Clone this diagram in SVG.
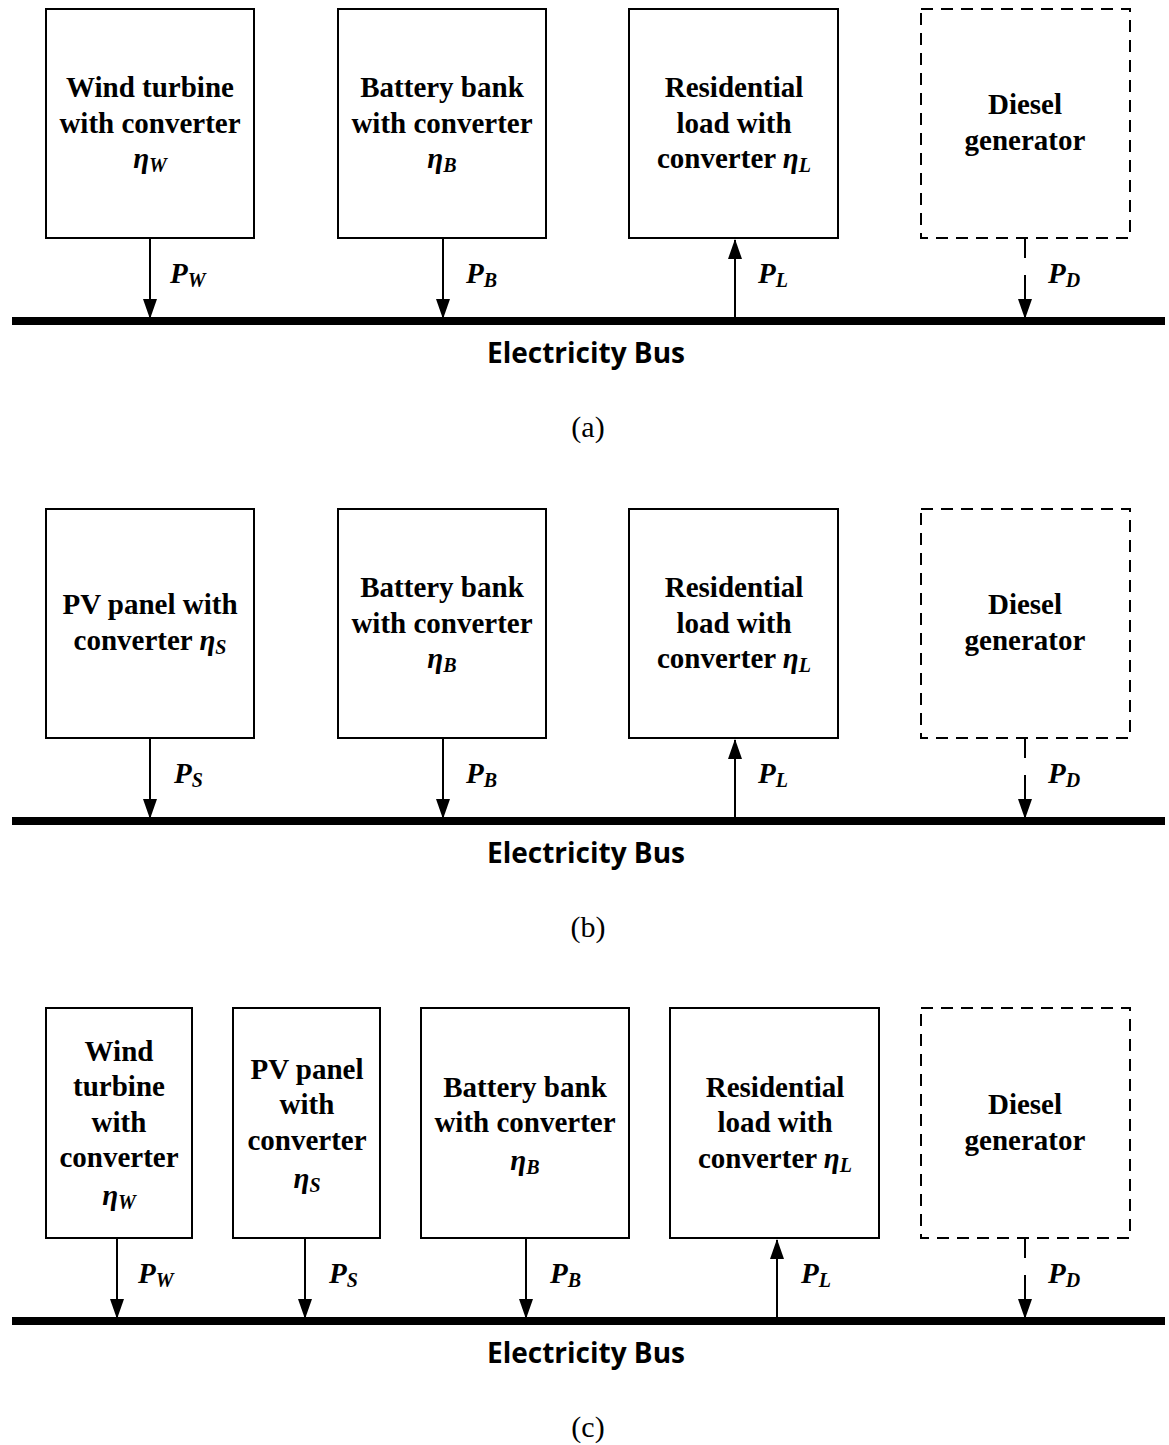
<svg xmlns="http://www.w3.org/2000/svg" width="1169" height="1445" viewBox="0 0 1169 1445">
<style>
.box{fill:#fff;stroke:#000;stroke-width:2}
.dbox{fill:#fff;stroke:#000;stroke-width:2;stroke-dasharray:12 8}
.t{font-family:"Liberation Serif","Times New Roman",serif;font-weight:bold;font-size:29px;text-anchor:middle;fill:#000}
.m{font-style:italic}
.lab{font-family:"Liberation Serif","Times New Roman",serif;font-weight:bold;font-style:italic;font-size:29px;fill:#000}
.bus{stroke:#000;stroke-width:8}
.busl{font-family:"Open Sans","Liberation Sans",sans-serif;font-weight:bold;font-size:28px;text-anchor:middle;fill:#000}
.cap{font-family:"Liberation Serif","Times New Roman",serif;font-size:30px;text-anchor:middle;fill:#000}
.ar{stroke:#000;stroke-width:2;fill:none}
</style>
<defs>
<marker id="ahd" markerWidth="20" markerHeight="14" refX="19" refY="7" orient="auto" markerUnits="userSpaceOnUse" viewBox="0 0 20 14">
<path d="M0,0 L20,7 L0,14 Z" fill="#000"/>
</marker>
</defs>

<!-- Panel (a) -->
<g id="a-wind"><rect class="box" x="46" y="9" width="208" height="229"/>
<text class="t" x="150" y="97">Wind turbine</text><text class="t" x="150" y="133">with converter</text>
<text class="t" x="150" y="168"><tspan class="m">η</tspan><tspan class="m" font-size="20" dy="4">W</tspan></text></g>
<g id="a-battery"><rect class="box" x="338" y="9" width="208" height="229"/>
<text class="t" x="442" y="97">Battery bank</text><text class="t" x="442" y="133">with converter</text>
<text class="t" x="442" y="168"><tspan class="m">η</tspan><tspan class="m" font-size="20" dy="4">B</tspan></text></g>
<g id="a-load"><rect class="box" x="629" y="9" width="209" height="229"/>
<text class="t" x="734" y="97">Residential</text><text class="t" x="734" y="133">load with</text>
<text class="t" x="734" y="168">converter <tspan class="m">η</tspan><tspan class="m" font-size="20" dy="4">L</tspan></text></g>
<g id="a-diesel"><rect class="dbox" x="921" y="9" width="209" height="229"/>
<text class="t" x="1025" y="114">Diesel</text><text class="t" x="1025" y="150">generator</text></g>
<g id="a-bus"><line class="bus" x1="12" y1="321" x2="1165" y2="321"/>
<text class="busl" x="586" y="363">Electricity Bus</text>
<text class="cap" x="588" y="437">(a)</text></g>

<!-- Panel (b) -->
<g id="b-pv"><rect class="box" x="46" y="509" width="208" height="229"/>
<text class="t" x="150" y="614">PV panel with</text>
<text class="t" x="150" y="650">converter <tspan class="m">η</tspan><tspan class="m" font-size="20" dy="4">S</tspan></text></g>
<g id="b-battery"><rect class="box" x="338" y="509" width="208" height="229"/>
<text class="t" x="442" y="597">Battery bank</text><text class="t" x="442" y="633">with converter</text>
<text class="t" x="442" y="668"><tspan class="m">η</tspan><tspan class="m" font-size="20" dy="4">B</tspan></text></g>
<g id="b-load"><rect class="box" x="629" y="509" width="209" height="229"/>
<text class="t" x="734" y="597">Residential</text><text class="t" x="734" y="633">load with</text>
<text class="t" x="734" y="668">converter <tspan class="m">η</tspan><tspan class="m" font-size="20" dy="4">L</tspan></text></g>
<g id="b-diesel"><rect class="dbox" x="921" y="509" width="209" height="229"/>
<text class="t" x="1025" y="614">Diesel</text><text class="t" x="1025" y="650">generator</text></g>
<g id="b-bus"><line class="bus" x1="12" y1="821" x2="1165" y2="821"/>
<text class="busl" x="586" y="863">Electricity Bus</text>
<text class="cap" x="588" y="937">(b)</text></g>

<!-- Panel (c) -->
<g id="c-wind"><rect class="box" x="46" y="1008" width="146" height="230"/>
<text class="t" x="119" y="1061">Wind</text><text class="t" x="119" y="1096">turbine</text><text class="t" x="119" y="1132">with</text><text class="t" x="119" y="1167">converter</text>
<text class="t" x="119" y="1205"><tspan class="m">η</tspan><tspan class="m" font-size="20" dy="4">W</tspan></text></g>
<g id="c-pv"><rect class="box" x="233" y="1008" width="147" height="230"/>
<text class="t" x="307" y="1079">PV panel</text><text class="t" x="307" y="1114">with</text><text class="t" x="307" y="1150">converter</text>
<text class="t" x="307" y="1188"><tspan class="m">η</tspan><tspan class="m" font-size="20" dy="4">S</tspan></text></g>
<g id="c-battery"><rect class="box" x="421" y="1008" width="208" height="230"/>
<text class="t" x="525" y="1097">Battery bank</text><text class="t" x="525" y="1132">with converter</text>
<text class="t" x="525" y="1170"><tspan class="m">η</tspan><tspan class="m" font-size="20" dy="4">B</tspan></text></g>
<g id="c-load"><rect class="box" x="670" y="1008" width="209" height="230"/>
<text class="t" x="775" y="1097">Residential</text><text class="t" x="775" y="1132">load with</text>
<text class="t" x="775" y="1168">converter <tspan class="m">η</tspan><tspan class="m" font-size="20" dy="4">L</tspan></text></g>
<g id="c-diesel"><rect class="dbox" x="921" y="1008" width="209" height="230"/>
<text class="t" x="1025" y="1114">Diesel</text><text class="t" x="1025" y="1150">generator</text></g>
<g id="c-bus"><line class="bus" x1="12" y1="1321" x2="1165" y2="1321"/>
<text class="busl" x="586" y="1363">Electricity Bus</text>
<text class="cap" x="588" y="1437">(c)</text></g>

<!-- Connectors -->
<g id="connectors">
<line class="ar" x1="150" y1="238" x2="150" y2="318" marker-end="url(#ahd)"/>
<line class="ar" x1="443" y1="238" x2="443" y2="318" marker-end="url(#ahd)"/>
<line class="ar" x1="735" y1="317" x2="735" y2="240" marker-end="url(#ahd)"/>
<line class="ar" x1="1025" y1="238" x2="1025" y2="258"/>
<line class="ar" x1="1025" y1="275" x2="1025" y2="318" marker-end="url(#ahd)"/>
<text class="lab" x="170" y="283">P<tspan font-size="20" dy="4">W</tspan></text>
<text class="lab" x="466" y="283">P<tspan font-size="20" dy="4">B</tspan></text>
<text class="lab" x="758" y="283">P<tspan font-size="20" dy="4">L</tspan></text>
<text class="lab" x="1048" y="283">P<tspan font-size="20" dy="4">D</tspan></text>

<line class="ar" x1="150" y1="738" x2="150" y2="818" marker-end="url(#ahd)"/>
<line class="ar" x1="443" y1="738" x2="443" y2="818" marker-end="url(#ahd)"/>
<line class="ar" x1="735" y1="817" x2="735" y2="740" marker-end="url(#ahd)"/>
<line class="ar" x1="1025" y1="738" x2="1025" y2="758"/>
<line class="ar" x1="1025" y1="775" x2="1025" y2="818" marker-end="url(#ahd)"/>
<text class="lab" x="174" y="783">P<tspan font-size="20" dy="4">S</tspan></text>
<text class="lab" x="466" y="783">P<tspan font-size="20" dy="4">B</tspan></text>
<text class="lab" x="758" y="783">P<tspan font-size="20" dy="4">L</tspan></text>
<text class="lab" x="1048" y="783">P<tspan font-size="20" dy="4">D</tspan></text>

<line class="ar" x1="117" y1="1238" x2="117" y2="1318" marker-end="url(#ahd)"/>
<line class="ar" x1="305" y1="1238" x2="305" y2="1318" marker-end="url(#ahd)"/>
<line class="ar" x1="526" y1="1238" x2="526" y2="1318" marker-end="url(#ahd)"/>
<line class="ar" x1="777" y1="1317" x2="777" y2="1240" marker-end="url(#ahd)"/>
<line class="ar" x1="1025" y1="1238" x2="1025" y2="1258"/>
<line class="ar" x1="1025" y1="1275" x2="1025" y2="1318" marker-end="url(#ahd)"/>
<text class="lab" x="138" y="1283">P<tspan font-size="20" dy="4">W</tspan></text>
<text class="lab" x="329" y="1283">P<tspan font-size="20" dy="4">S</tspan></text>
<text class="lab" x="550" y="1283">P<tspan font-size="20" dy="4">B</tspan></text>
<text class="lab" x="801" y="1283">P<tspan font-size="20" dy="4">L</tspan></text>
<text class="lab" x="1048" y="1283">P<tspan font-size="20" dy="4">D</tspan></text>
</g>
</svg>
